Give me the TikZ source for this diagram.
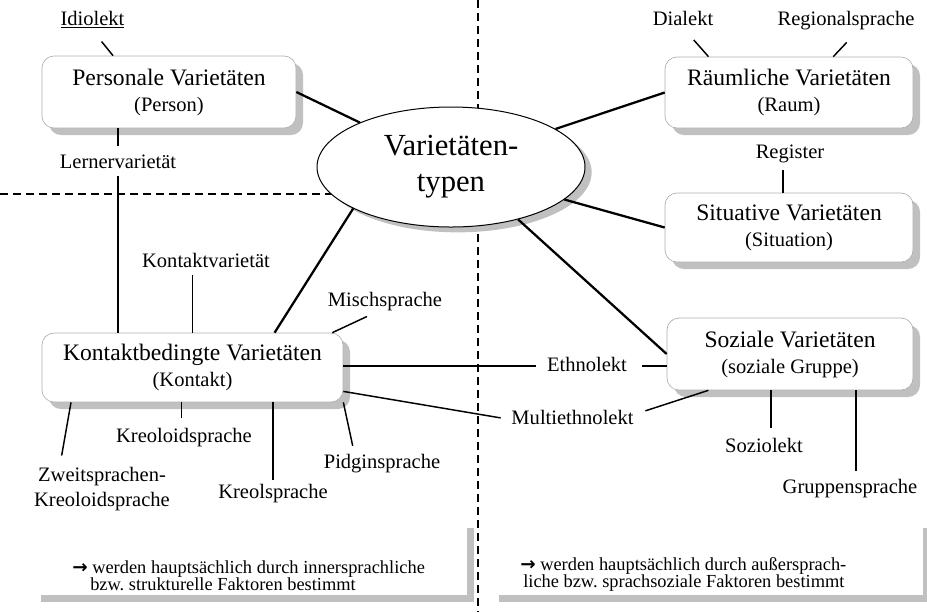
\documentclass[tikz,border=0pt]{standalone}
\usepackage{fontspec}
\setmainfont{Liberation Serif}
\newfontfamily\arrowfont{DejaVu Sans}
\usetikzlibrary{shapes.geometric,shadows,calc}
\definecolor{shadowgray}{RGB}{192,192,192}
\definecolor{boxline}{RGB}{175,175,175}
\newcommand{\subsz}{\fontsize{15.4}{19.5}\selectfont}
\frenchspacing
\begin{document}
\begin{tikzpicture}[x=0.75pt,y=-0.75pt,
  box/.style={draw=boxline, line width=0.5pt, fill=white, rounded corners=9pt, align=center, inner sep=0pt,
    font=\fontsize{17.7}{19.5}\selectfont,
    drop shadow={shadow xshift=5.25pt, shadow yshift=-5.25pt, fill=shadowgray, opacity=1}},
  notebox/.style={fill=white, inner sep=0pt,
    drop shadow={shadow xshift=5.25pt, shadow yshift=-5.25pt, fill=shadowgray, opacity=1}},
  lbl/.style={inner sep=3pt, font=\fontsize{15.4}{18.75}\selectfont, text height=10.5pt, text depth=3pt},
  lbltwo/.style={inner sep=3pt, font=\fontsize{15.4}{18.75}\selectfont, align=center},
  notetext/.style={inner sep=0pt, anchor=west, align=left, font=\fontsize{13.8}{12.6}\selectfont},
  mainconn/.style={line width=1.7pt},
  conn/.style={line width=1.1pt},
  divider/.style={line width=1.5pt, dash pattern=on 6pt off 3.75pt}]
\useasboundingbox (0,0) rectangle (927,612);

% dividers
\draw[divider] (478,0) -- (478,612);
\draw[divider] (0,194) -- (340,194);

% note boxes
\node[notebox, minimum width=324.75pt, minimum height=55.5pt] (nl) at (250.5,558) {};
\node[notebox, minimum width=323.25pt, minimum height=55.5pt] (nr) at (707.5,558) {};
\node[notetext] (ntl) at (72,575.5) {{\arrowfont\bfseries →} werden hauptsächlich durch innersprachliche\\\hspace*{13.5pt}bzw. strukturelle Faktoren bestimmt};
\node[notetext] (ntr) at (520,574.5) {{\arrowfont\bfseries →} werden hauptsächlich durch außersprach-\\\hspace*{2.25pt}liche bzw. sprachsoziale Faktoren bestimmt};

% main boxes
\node[box, minimum width=190.5pt, minimum height=54pt] (pers) at (169,92) {Personale Varietäten\\{\subsz (Person)}};
\node[box, minimum width=186pt, minimum height=53.25pt] (raum) at (789,92.5) {Räumliche Varietäten\\{\subsz (Raum)}};
\node[box, minimum width=186pt, minimum height=51.75pt] (sit) at (789,227.5) {Situative Varietäten\\{\subsz (Situation)}};
\node[box, minimum width=225.75pt, minimum height=51.75pt] (kon) at (192.5,367.5) {Kontaktbedingte Varietäten\\{\subsz (Kontakt)}};
\node[box, minimum width=184.5pt, minimum height=54pt] (soz) at (790,354) {Soziale Varietäten\\{\subsz (soziale Gruppe)}};

% center ellipse
\node[ellipse, draw, line width=0.75pt, fill=white, minimum width=201pt, minimum height=90pt, inner sep=0pt,
  align=center, font=\fontsize{23}{27}\selectfont,
  drop shadow={shadow xshift=5pt, shadow yshift=-4pt, fill=shadowgray, opacity=1}] (ell) at (451,167) {Varietäten-\\typen};

% labels
\node[lbl] (id) at (92.5,20) {\underline{Idiolekt}};
\node[lbl] (lern) at (118,163) {Lernervarietät};
\node[lbl] (dia) at (683,20) {Dialekt};
\node[lbl] (regio) at (846,20) {Regionalsprache};
\node[lbl] (regi) at (790,153) {Register};
\node[lbl] (kv) at (206,262) {Kontaktvarietät};
\node[lbl] (misch) at (385,301) {Mischsprache};
\node[lbl] (eth) at (587,366) {Ethnolekt};
\node[lbl] (mul) at (572.5,419) {Multiethnolekt};
\node[lbltwo] (zw) at (102,489.5) {Zweitsprachen-\\Kreoloidsprache};
\node[lbl] (kreo) at (184,437) {Kreoloidsprache};
\node[lbl] (kreol) at (273,493) {Kreolsprache};
\node[lbl] (pid) at (382,463) {Pidginsprache};
\node[lbl] (sozl) at (764,447) {Soziolekt};
\node[lbl] (grp) at (850,488) {Gruppensprache};

% main connectors
\draw[mainconn] (pers.east) -- (ell.154);
\draw[mainconn] (raum.west) -- (ell.20);
\draw[mainconn] (sit.west) -- (ell.-16);
\draw[mainconn] (soz.west) -- (ell.-38);
\draw[mainconn] (kon.23.2) -- (ell.203);

% label connectors
\draw[conn, shorten >=8pt] (pers.147.7) -- (id.-80);
\draw[conn, shorten >=6.7pt] (raum.156.6) -- (dia.-70);
\draw[conn, shorten >=9.4pt] (raum.39.5) -- (regio.-55);
\draw[conn, shorten <=3pt] ([xshift=-5.25pt]regi.south) -- ([xshift=-5.25pt]regi.south |- sit.north);
\draw[conn, shorten <=3pt] (lern.north) -- (lern.north |- pers.south);
\draw[conn] (lern.south) -- (lern.south |- kon.north);
\draw[conn] (kon.north) -- (kon.north |- kv.south);
\draw[conn, shorten >=4pt] (kon.14.1) -- (misch.-135);
\draw[conn, shorten >=5pt] (kon.east |- eth.west) -- (eth.west);
\draw[conn, shorten <=8pt] (eth.east) -- (soz.west |- eth.east);
\draw[conn, shorten >=5pt] (kon.-9.6) -- (mul.west);
\draw[conn, shorten <=6pt] (mul.5) -- (soz.204.2);
\draw[conn, shorten >=6pt] (kon.196.9) -- (zw.148.7);
\draw[conn, shorten <=4pt] ([xshift=-2pt]kreo.north) -- ([xshift=-2pt]kreo.north |- kon.south);
\draw[conn] (kreol.north) -- (kreol.north |- kon.south);
\draw[conn, shorten >=3pt] (kon.-13.9) -- (pid.155);
\draw[conn, shorten <=4pt] ([xshift=5.25pt]sozl.north) -- ([xshift=5.25pt]sozl.north |- soz.south);
\draw[conn, shorten <=3pt] ([xshift=4.5pt]grp.north) -- ([xshift=4.5pt]grp.north |- soz.south);
\end{tikzpicture}
\end{document}
